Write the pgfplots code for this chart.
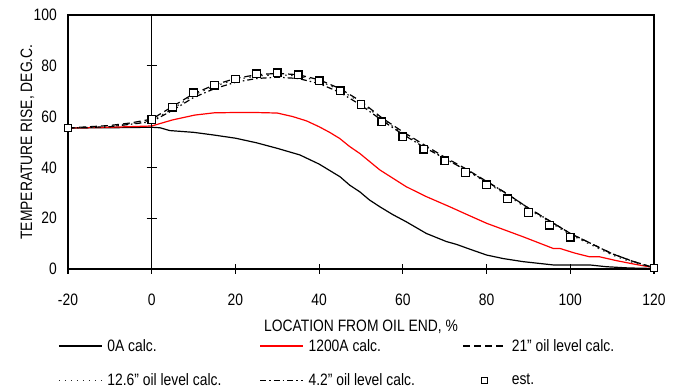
\documentclass[border=0pt]{standalone}
\usepackage{pgfplots}
\pgfplotsset{compat=1.18}
\usepackage{fontspec}
\setmainfont[FakeStretch=0.84]{Liberation Sans}
\begin{document}
\begin{tikzpicture}
\begin{axis}[
  name=ax,
  scale only axis, width=586pt, height=254pt,
  xmin=-20, xmax=120, ymin=0, ymax=100,
  xtick={-20,0,20,40,60,80,100,120},
  ytick={0,20,40,60,80,100},
  axis line style={line width=1.2pt},
  tick align=center, major tick length=10pt,
  xtick style={line width=1.2pt, black},
  ytick style={draw=none},
  xtick pos=bottom, ytick pos=left,
  ticklabel style={font=\fontsize{16.5}{19}\selectfont},
  /pgf/number format/assume math mode=true,
  xticklabel style={anchor=center, inner sep=0pt, yshift=-25.5pt},
  yticklabel style={anchor=east, inner sep=0pt, xshift=-6pt},
  xlabel={LOCATION FROM OIL END, \%},
  ylabel={TEMPERATURE RISE, DEG.C.},
  label style={font=\fontsize{16.5}{19}\selectfont},
  xlabel style={at={(axis description cs:0.5,-0.248)}, anchor=base, inner sep=0pt},
  ylabel style={at={(axis description cs:-0.0614,0.5)}, anchor=base, inner sep=0pt},
  legend columns=3,
  legend cell align=left,
  legend style={draw=none, fill=none, inner sep=0pt, at={(-0.01706,-0.2756)}, anchor=north west,
     font=\fontsize{16.5}{19}\selectfont, row sep=21pt,
     nodes={inner sep=0pt},
     /tikz/every odd column/.append style={column sep=5pt}},
  legend image code/.code={\draw[#1] (0pt,0pt) -- (43pt,0pt);},
]
\addplot[black, line width=1.2pt] coordinates {
(-20,55.5) (-10,55.6) (0,55.8) (2,55.6) (4.3,54.5) (10,53.8) (14.6,52.8) (20,51.5) (25,49.7) (30,47.5) (35.4,44.9) (40,41.3) (45,36.3) (47.3,33) (49.7,30.4) (52,27.2) (54.5,24.5) (57.5,21.5) (60.8,18.6) (65.6,14) (70.4,10.8) (72.8,9.7) (76,7.8) (80,5.5) (84,4.1) (88.7,2.9) (95.9,1.6) (104.6,1.6) (108.6,0.9) (114,0.4) (119.8,0.2)};
\addlegendentry{\makebox[152pt][l]{0A calc.}}
\addplot[red, line width=1.2pt] coordinates {
(-20,55.5) (-10,55.8) (0,56.3) (2.5,57.5) (5,58.7) (10.3,60.6) (15,61.5) (20,61.6) (25,61.6) (30,61.4) (33.7,60) (37,58.3) (40,56) (42.5,53.8) (44.9,51.4) (47.3,48.2) (49.7,45.5) (54.5,39) (60.8,32.4) (65.6,28.5) (71.2,24.5) (75.5,21.3) (80,18) (88.7,12.7) (95.9,8.1) (97.5,8.1) (101,6.3) (104.6,4.8) (107,4.8) (111,3.3) (115,2) (120,0.5)};
\addlegendentry{\makebox[154pt][l]{1200A calc.}}
\addplot[black, line width=1.2pt, dash pattern=on 7pt off 4pt] coordinates {
(-20,55.5) (-10,56.5) (-5,57.5) (0,59) (5,64) (10,69) (15,72.5) (20,75) (25,76.5) (30,77) (35,76.5) (40,74.5) (45,71) (50,66) (55,59.5) (60,54) (65,49) (70,44) (75,39.5) (80,34.5) (85,29.5) (90,24) (95,19) (100,14) (105,10) (110,6) (115,3) (120,0.5)};
\addlegendentry{21" oil level calc.}
\addplot[black!85, line width=1.1pt, dash pattern=on 1.5pt off 4.5pt] coordinates {
(-20,55.5) (-10,56) (0,58.5) (5,63) (10,68.5) (15,72) (20,74.5) (25,76) (30,76.5) (35,76) (40,74) (45,70.5) (50,65.5) (55,59) (60,53.5) (65,48.5) (70,43.5) (75,39) (80,34) (85,29) (90,23.5) (95,18.5) (100,13.5) (105,9.5) (110,5.5) (115,2.5) (120,0.5)};
\addlegendentry{\makebox[152pt][l]{12.6" oil level calc.}}
\addplot[black, line width=1.2pt, dash pattern=on 6pt off 3pt on 1.5pt off 3pt] coordinates {
(-20,55.5) (-10,56) (0,58) (5,62.5) (10,67.5) (15,71) (20,73.5) (25,75) (30,75.5) (35,75) (40,73) (45,69.5) (50,64.5) (55,58.5) (60,53) (65,48) (70,43.5) (75,39) (80,34.5) (85,29.5) (90,24) (95,19) (100,14) (105,10) (110,6) (115,3) (120,0.5)};
\addlegendentry{\makebox[154pt][l]{4.2" oil level calc.}}
\addplot[only marks, mark=square*, mark size=3.8pt, mark options={fill=white, draw=black, line width=1.3pt},
  legend image code/.code={\path[draw=none, fill=none] (0pt,0pt) -- (43pt,0pt); \draw[draw=black, line width=1.3pt, fill=white, solid] (18.5pt,-3pt) rectangle (24.5pt,3pt);}] coordinates {
(-20,55.5) (0,58.8) (5,63.7) (10,69.4) (15,72.4) (20,74.8) (25,76.8) (30,77.3) (35,76.5) (40,74.1) (45,70.2) (50,64.8) (55,58) (60,52.1) (65,47.2) (70,42.6) (75,38) (80,33.1) (85,27.6) (90,22.2) (95,17.3) (100,12.5) (120,0.4)};
\addlegendentry{est.}
\draw[line width=1.2pt] (axis cs:0,0) -- (axis cs:0,100);
\draw[line width=1.2pt] ([xshift=-5pt]axis cs:0,20) -- ([xshift=5pt]axis cs:0,20);
\draw[line width=1.2pt] ([xshift=-5pt]axis cs:0,40) -- ([xshift=5pt]axis cs:0,40);
\draw[line width=1.2pt] ([xshift=-5pt]axis cs:0,60) -- ([xshift=5pt]axis cs:0,60);
\draw[line width=1.2pt] ([xshift=-5pt]axis cs:0,80) -- ([xshift=5pt]axis cs:0,80);
\end{axis}
\pgfresetboundingbox
\path ([xshift=-68pt,yshift=-123pt]ax.south west) ([xshift=31pt,yshift=15pt]ax.north east);
\end{tikzpicture}
\end{document}
